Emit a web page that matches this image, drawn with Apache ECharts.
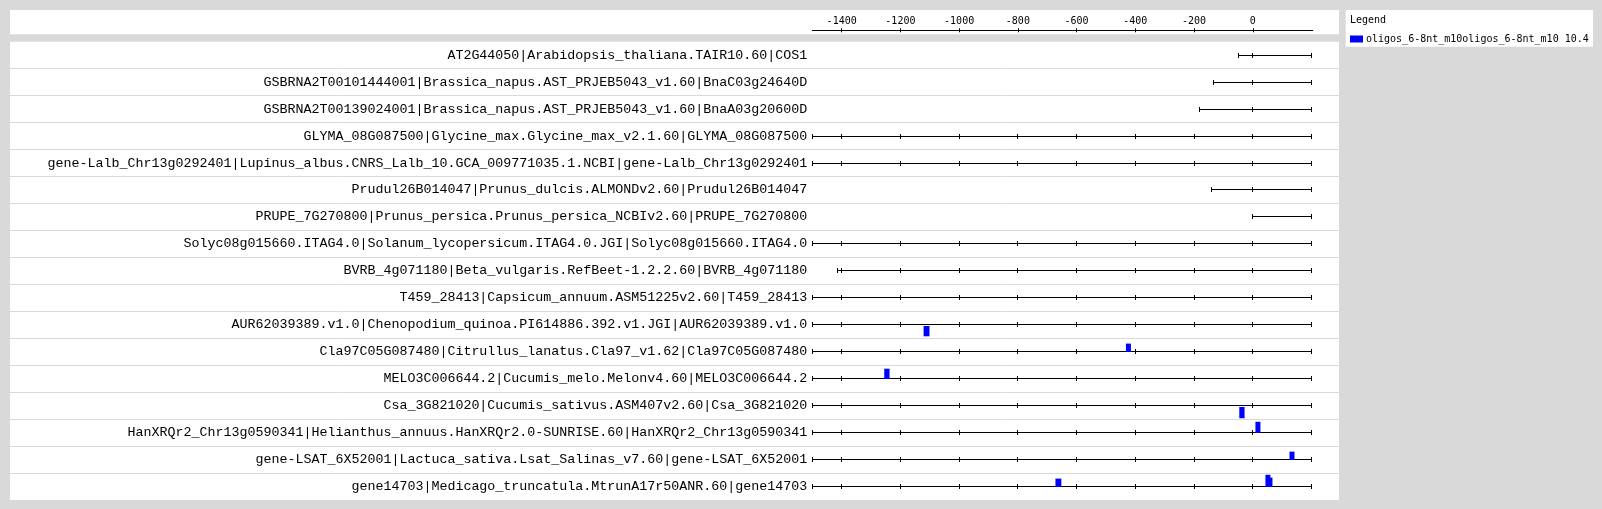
<!DOCTYPE html>
<html>
<head>
<meta charset="utf-8">
<script src="https://cdn.jsdelivr.net/npm/echarts@6/dist/echarts.min.js"></script>
<style>html,body{margin:0;padding:0;background:#d9d9d9;}#chart{width:1602px;height:509px;}</style>
</head>
<body>
<div id="chart"></div>
<script>
// ---------- data ----------
var rowLabels = [
  'AT2G44050|Arabidopsis_thaliana.TAIR10.60|COS1',
  'GSBRNA2T00101444001|Brassica_napus.AST_PRJEB5043_v1.60|BnaC03g24640D',
  'GSBRNA2T00139024001|Brassica_napus.AST_PRJEB5043_v1.60|BnaA03g20600D',
  'GLYMA_08G087500|Glycine_max.Glycine_max_v2.1.60|GLYMA_08G087500',
  'gene-Lalb_Chr13g0292401|Lupinus_albus.CNRS_Lalb_10.GCA_009771035.1.NCBI|gene-Lalb_Chr13g0292401',
  'Prudul26B014047|Prunus_dulcis.ALMONDv2.60|Prudul26B014047',
  'PRUPE_7G270800|Prunus_persica.Prunus_persica_NCBIv2.60|PRUPE_7G270800',
  'Solyc08g015660.ITAG4.0|Solanum_lycopersicum.ITAG4.0.JGI|Solyc08g015660.ITAG4.0',
  'BVRB_4g071180|Beta_vulgaris.RefBeet-1.2.2.60|BVRB_4g071180',
  'T459_28413|Capsicum_annuum.ASM51225v2.60|T459_28413',
  'AUR62039389.v1.0|Chenopodium_quinoa.PI614886.392.v1.JGI|AUR62039389.v1.0',
  'Cla97C05G087480|Citrullus_lanatus.Cla97_v1.62|Cla97C05G087480',
  'MELO3C006644.2|Cucumis_melo.Melonv4.60|MELO3C006644.2',
  'Csa_3G821020|Cucumis_sativus.ASM407v2.60|Csa_3G821020',
  'HanXRQr2_Chr13g0590341|Helianthus_annuus.HanXRQr2.0-SUNRISE.60|HanXRQr2_Chr13g0590341',
  'gene-LSAT_6X52001|Lactuca_sativa.Lsat_Salinas_v7.60|gene-LSAT_6X52001',
  'gene14703|Medicago_truncatula.MtrunA17r50ANR.60|gene14703'
];
var rowStarts = [-50, -135, -182, -1500, -1500, -140, 0, -1500, -1415, -1500, -1500, -1500, -1500, -1500, -1500, -1500, -1500];
var rowEnds   = [200, 200, 200, 200, 200, 200, 200, 200, 200, 200, 200, 200, 200, 200, 200, 200, 200];

var motifRow    = [10, 11, 12, 13, 14, 15, 16, 16, 16];
var motifStart  = [-1121, -432, -1255, -46, 9, 125, -672, 43, 50];
var motifEnd    = [-1101, -415, -1237, -28, 26, 142, -652, 60, 67];
var motifStrand = [-1, 1, 1, -1, 1, 1, 1, 1, 1];
var motifScore  = [10.3, 8.4, 10.3, 11.2, 11.2, 8.4, 8.4, 12.2, 9.4];

var axisTicks = [-1400, -1200, -1000, -800, -600, -400, -200, 0];
var legendName = 'oligos_6-8nt_m10oligos_6-8nt_m10 10.4';

// ---------- layout ----------
var PANEL_L = 10, PANEL_R = 1339;
var MONO = '"DejaVu Sans Mono", "Liberation Mono", monospace';
var MONO_LABEL = '"Liberation Mono", "DejaVu Sans Mono", monospace';
var crisp = function (v) { return Math.round(v - 0.5) + 0.5; };

var backboneData = rowStarts.map(function (s, i) { return [s, rowEnds[i], i]; });
var motifData = motifRow.map(function (r, i) {
  return [motifStart[i], motifEnd[i], r, motifStrand[i], motifScore[i]];
});

var chart = echarts.init(document.getElementById('chart'), null, {renderer: 'canvas'});
chart.setOption({
  backgroundColor: '#d9d9d9',
  animation: false,
  title: {
    text: 'Legend', left: 1350, top: 15, padding: 0,
    textStyle: {fontFamily: MONO, fontSize: 10, fontWeight: 'normal', color: '#000'}
  },
  legend: {
    data: [legendName], left: 1350, top: 34, padding: 0,
    icon: 'rect', itemWidth: 13, itemHeight: 7, selectedMode: false,
    textStyle: {fontFamily: MONO, fontSize: 10, color: '#000', padding: [0, 0, 0, -2]}
  },
  graphic: [
    {type: 'rect', z: -10, shape: {x: PANEL_L, y: 10, width: PANEL_R - PANEL_L, height: 24.3}, style: {fill: '#fff'}},
    {type: 'rect', z: -10, shape: {x: PANEL_L, y: 41.7, width: PANEL_R - PANEL_L, height: 458.3}, style: {fill: '#fff'}},
    {type: 'rect', z: -10, shape: {x: 1345.7, y: 10, width: 247.3, height: 36.7}, style: {fill: '#fff'}}
  ],
  grid: {left: 812.3, top: 41.7, width: 500.4, height: 458.3, containLabel: false},
  xAxis: [
    {
      type: 'value', position: 'top', offset: 11.4, min: -1500, max: 204,
      axisLine: {show: true, lineStyle: {color: '#000', width: 1}},
      axisTick: {show: true, customValues: axisTicks, length: 2, lineStyle: {color: '#000'}},
      axisLabel: {customValues: axisTicks, margin: 4, fontFamily: MONO, fontSize: 10, color: '#000',
                  formatter: function (v) { return String(v); }},
      splitLine: {show: false}
    },
    {
      type: 'value', position: 'top', offset: 11.4, min: -1500, max: 204,
      axisLine: {show: false},
      axisTick: {show: true, inside: true, customValues: axisTicks, length: 2, lineStyle: {color: '#000'}},
      axisLabel: {show: false},
      splitLine: {show: false}
    }
  ],
  yAxis: {
    type: 'category', inverse: true, data: rowLabels,
    axisLine: {show: false}, axisTick: {show: false}, splitLine: {show: false},
    axisLabel: {margin: 5, fontFamily: MONO_LABEL, fontSize: 13.33, color: '#000'}
  },
  series: [
    {
      type: 'custom', name: 'backbone', silent: true, clip: false,
      data: backboneData,
      encode: {x: [0, 1], y: 2},
      renderItem: function (params, api) {
        var s = api.value(0), e = api.value(1), r = api.value(2);
        var p0 = api.coord([s, r]), p1 = api.coord([e, r]);
        var band = api.size([0, 1])[1];
        var y = crisp(p0[1]);
        var children = [];
        if (r < rowLabels.length - 1) {
          var yb = crisp(p0[1] + band / 2);
          children.push({type: 'line', shape: {x1: PANEL_L, y1: yb, x2: PANEL_R, y2: yb},
                         style: {stroke: '#d9d9d9', lineWidth: 1}});
        }
        children.push({type: 'line', shape: {x1: crisp(p0[0]), y1: y, x2: crisp(p1[0]), y2: y},
                       style: {stroke: '#000', lineWidth: 1}});
        var tickXs = [s, e];
        for (var t = Math.ceil(s / 200) * 200; t <= e; t += 200) tickXs.push(t);
        tickXs.forEach(function (tv) {
          var x = crisp(api.coord([tv, r])[0]);
          children.push({type: 'line', shape: {x1: x, y1: y - 2.5, x2: x, y2: y + 2.5},
                         style: {stroke: '#000', lineWidth: 1}});
        });
        return {type: 'group', children: children};
      }
    },
    {
      type: 'custom', name: legendName, clip: false,
      itemStyle: {color: '#0000ff'},
      data: motifData,
      encode: {x: [0, 1], y: 2},
      renderItem: function (params, api) {
        var s = api.value(0), e = api.value(1), r = api.value(2);
        var strand = api.value(3), h = api.value(4);
        var p0 = api.coord([s, r]), p1 = api.coord([e, r]);
        var y = Math.round(p0[1]);
        var top = strand > 0 ? y - h : y + 1;
        return {type: 'rect', shape: {x: p0[0], y: top, width: Math.max(p1[0] - p0[0], 4), height: h},
                style: {fill: '#0000ff'}};
      }
    }
  ]
});
</script>
</body>
</html>
